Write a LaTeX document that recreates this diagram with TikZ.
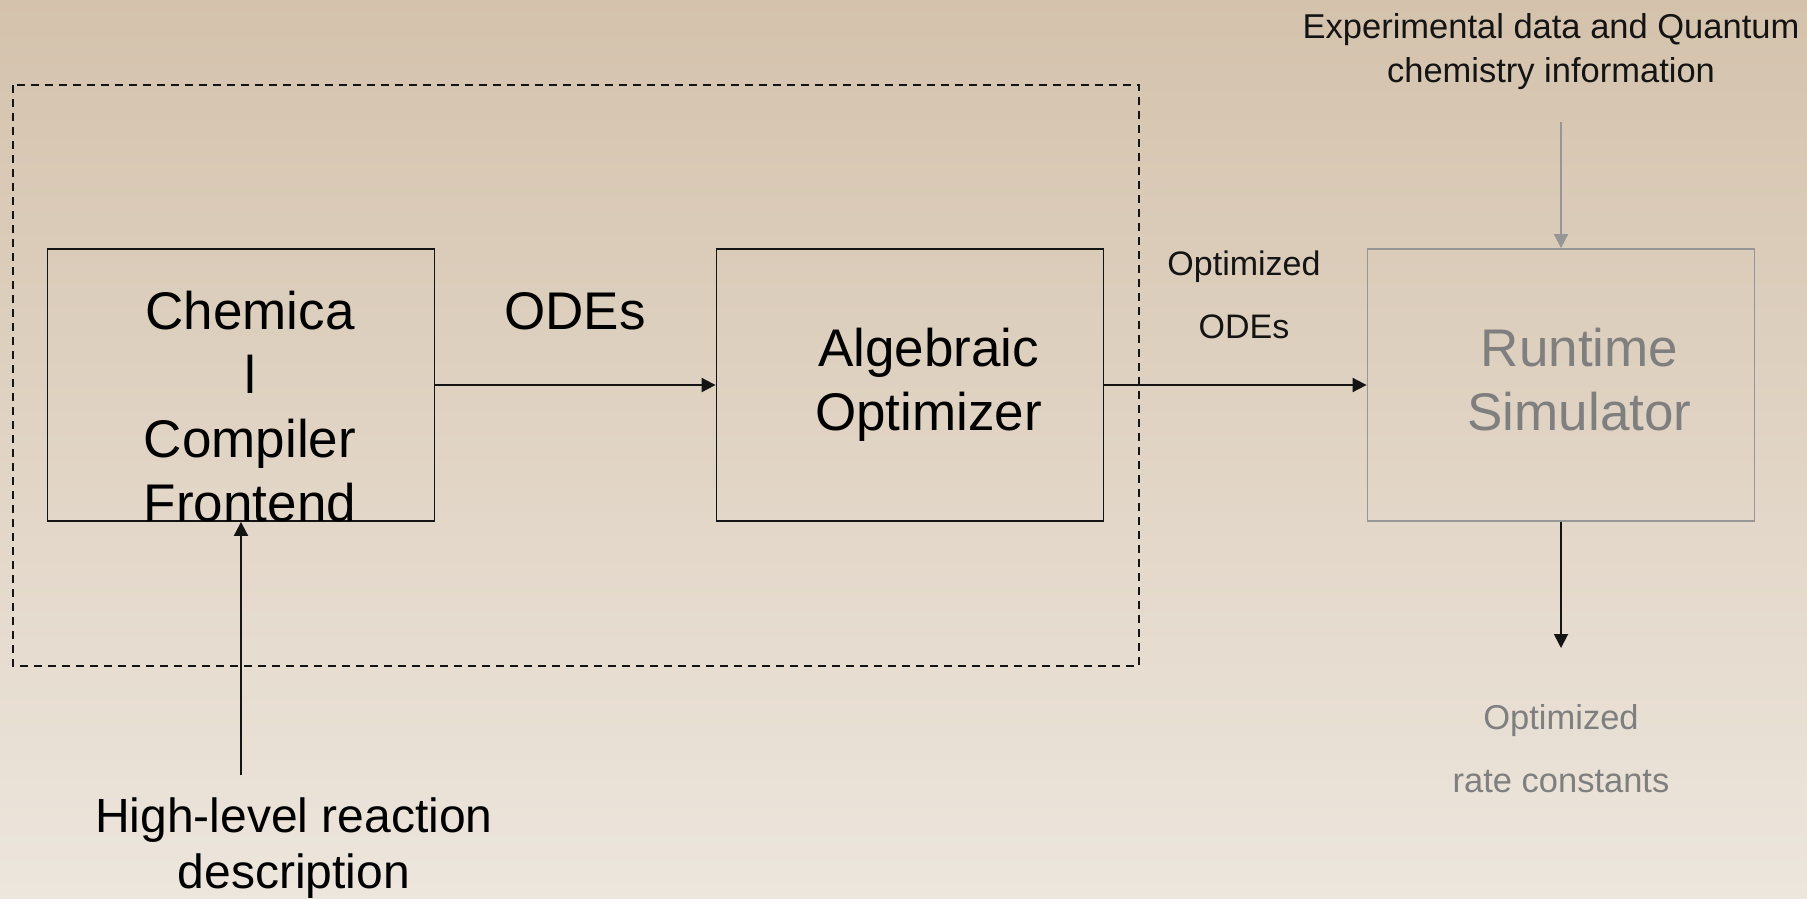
\documentclass[tikz,border=0pt]{standalone}
\usepackage{fontspec}
\setmainfont{Liberation Sans}
\usetikzlibrary{arrows.meta}
\definecolor{bgtop}{RGB}{212,194,172}
\definecolor{bgbot}{RGB}{237,230,221}
\definecolor{txtgray}{RGB}{127,127,127}
\definecolor{linegray}{RGB}{150,150,150}
\definecolor{ink}{RGB}{20,20,20}
\tikzset{
  blk/.style={draw=ink, line width=1.8pt, minimum width=387pt, minimum height=272pt, inner sep=0pt},
  gblk/.style={draw=linegray, line width=1.8pt, minimum width=387pt, minimum height=272pt, inner sep=0pt},
  arr/.style={draw=ink, line width=1.8pt, -{Triangle[length=14pt,width=14pt]}},
  garr/.style={draw=linegray, line width=1.8pt, -{Triangle[length=14pt,width=14pt]}},
  big/.style={font=\fontsize{53}{64}\selectfont, align=center, inner sep=0pt, text=black},
}
\begin{document}
\begin{tikzpicture}[x=1pt,y=-1pt]
\useasboundingbox (0,0) rectangle (1807,898);
\shade[top color=bgtop, bottom color=bgbot] (0,0) rectangle (1807,898);
% dashed frame
\draw[ink, line width=1.8pt, dash pattern=on 8pt off 6pt] (13,85) rectangle (1139,666);
% boxes
\node[blk] (chem) at (241,385) {};
\node[big] (chemtext) at (250,407) {Chemica\\l\\Compiler\\Frontend};
\node[blk] (alg) at (910,385) {};
\node[big] (algtext) at (928.5,385) {Algebraic\\Optimizer};
\node[gblk] (rt) at (1561,385) {};
\node[big, text=txtgray] (rttext) at (1579.5,385) {Runtime\\Simulator\vphantom{p}};
% labels
\node[big] (odes) at (575,311) {ODEs};
\node[font=\fontsize{34}{63}\selectfont, align=center, inner sep=0pt, text=ink] (oodes) at (1244,295) {Optimized\\ODEs};
\node[font=\fontsize{34.5}{44}\selectfont, align=center, inner sep=0pt, text=ink] (exp) at (1551,52) {Experimental data and Quantum\\chemistry information};
\node[font=\fontsize{34.5}{63}\selectfont, align=center, inner sep=0pt, text=txtgray] (orc) at (1561,748.5) {Optimized\\rate constants};
\node[font=\fontsize{48}{56}\selectfont, align=center, inner sep=0pt, text=black] (hl) at (294,848.5) {High-level reaction\\description};
% connector ends
\coordinate (hlin) at (241,775);
\coordinate (expin) at (1561,122);
\coordinate (rtout) at (1561,648);
% connectors
\draw[arr] (chem.east) -- (alg.west);
\draw[arr] (alg.east) -- (rt.west);
\draw[arr] (hlin) -- (chem.south);
\draw[garr] (expin) -- (rt.north);
\draw[arr] (rt.south) -- (rtout);
\end{tikzpicture}
\end{document}
